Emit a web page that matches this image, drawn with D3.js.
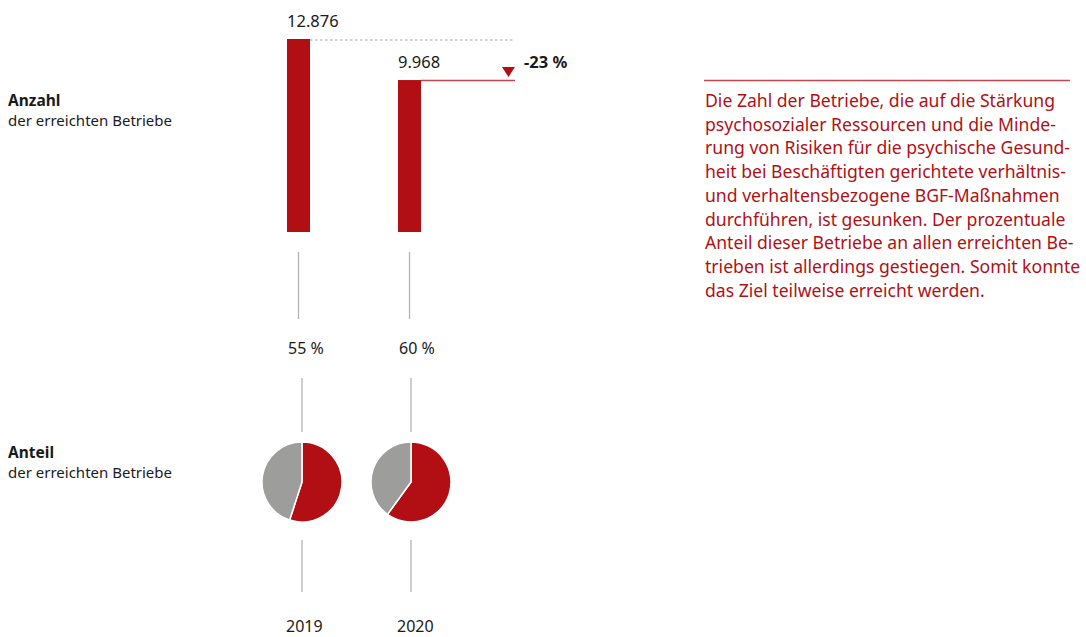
<!DOCTYPE html>
<html>
<head>
<meta charset="utf-8">
<script src="https://cdn.jsdelivr.net/npm/d3@7/dist/d3.min.js"></script>
<style>
  html, body { margin: 0; padding: 0; background: #fff; }
  svg { display: block; }
  text { font-family: "Noto Sans", "DejaVu Sans", sans-serif; }
</style>
</head>
<body>
<svg id="chart" width="1086" height="637"></svg>
<script>
// Data
const years = ["2019", "2020"];
const counts = [12876, 9968];
const shares = [55, 60];
const changeLabel = "-23 %";
const countLabels = ["12.876", "9.968"];
const shareLabels = ["55 %", "60 %"];
const noteLines = [
  "Die Zahl der Betriebe, die auf die Stärkung",
  "psychosozialer Ressourcen und die Minde-",
  "rung von Risiken für die psychische Gesund-",
  "heit bei Beschäftigten gerichtete verhältnis-",
  "und verhaltensbezogene BGF-Maßnahmen",
  "durchführen, ist gesunken. Der prozentuale",
  "Anteil dieser Betriebe an allen erreichten Be-",
  "trieben ist allerdings gestiegen. Somit konnte",
  "das Ziel teilweise erreicht werden."
];

const RED = "#b20f14";
const GREY = "#9d9d9c";
const LINE = "#b3b3b3";
const TEXT = "#1a1a1a";

const svg = d3.select("#chart");

// Scales: bar left edges, pie centres, bar heights
const x = d3.scalePoint().domain(years).range([287, 398]);
const xPie = d3.scalePoint().domain(years).range([302, 411]);
const y = d3.scaleLinear().domain([-800, 12876]).range([232, 39]);
const bw = 23;

// Left row labels
const rowLabels = [
  { title: "Anzahl", sub: "der erreichten Betriebe", y: 106 },
  { title: "Anteil", sub: "der erreichten Betriebe", y: 458 }
];
rowLabels.forEach(r => {
  svg.append("text").attr("x", 8).attr("y", r.y)
    .attr("font-size", 15.5).attr("font-weight", "bold").attr("fill", TEXT).text(r.title);
  svg.append("text").attr("x", 8).attr("y", r.y + 20)
    .attr("font-size", 15).attr("fill", TEXT).text(r.sub);
});

// Bars
svg.selectAll("rect.bar").data(counts).join("rect")
  .attr("class", "bar")
  .attr("x", (d, i) => x(years[i]))
  .attr("y", d => y(d))
  .attr("width", bw)
  .attr("height", d => y(-800) - y(d))
  .attr("fill", RED);

// Value labels
svg.selectAll("text.val").data(countLabels).join("text")
  .attr("class", "val")
  .attr("x", (d, i) => x(years[i]))
  .attr("y", (d, i) => y(counts[i]) - 12)
  .attr("font-size", 16.5).attr("fill", TEXT).text(d => d);

// Reference line from the first bar, change line from the second
const lineEnd = 515;
svg.append("line")
  .attr("x1", x(years[0]) + bw).attr("x2", lineEnd)
  .attr("y1", y(counts[0]) + 1).attr("y2", y(counts[0]) + 1)
  .attr("stroke", "#a6a6a6").attr("stroke-width", 1.2).attr("stroke-dasharray", "2.5,2.5");
svg.append("line")
  .attr("x1", x(years[1]) + bw).attr("x2", lineEnd)
  .attr("y1", y(counts[1]) + 0.5).attr("y2", y(counts[1]) + 0.5)
  .attr("stroke", "#c9474c").attr("stroke-width", 1.6);

// Down triangle and change label
const ty = y(counts[1]) - 13;
svg.append("path")
  .attr("d", `M${lineEnd - 13},${ty} L${lineEnd},${ty} L${lineEnd - 6.5},${ty + 10} Z`)
  .attr("fill", RED);
svg.append("text").attr("x", 524).attr("y", y(counts[1]) - 12)
  .attr("font-size", 16.5).attr("font-weight", "bold").attr("fill", TEXT).text(changeLabel);

// Connector lines, share labels and years
years.forEach((yr, i) => {
  const bc = x(yr) + bw / 2;
  const pc = xPie(yr);
  svg.append("line").attr("x1", bc).attr("x2", bc).attr("y1", 252).attr("y2", 319)
    .attr("stroke", LINE).attr("stroke-width", 1.3);
  svg.append("line").attr("x1", pc).attr("x2", pc).attr("y1", 378).attr("y2", 432)
    .attr("stroke", LINE).attr("stroke-width", 1.3);
  svg.append("line").attr("x1", pc).attr("x2", pc).attr("y1", 540).attr("y2", 592)
    .attr("stroke", LINE).attr("stroke-width", 1.3);
  svg.append("text").attr("x", x(yr) + 1).attr("y", 354)
    .attr("font-size", 16).attr("fill", TEXT).text(shareLabels[i]);
  svg.append("text").attr("x", x(yr) - 1).attr("y", 632)
    .attr("font-size", 16).attr("fill", TEXT).text(yr);
});

// Pies
const pie = d3.pie().sort(null).value(d => d);
const arc = d3.arc().innerRadius(0).outerRadius(40);
shares.forEach((s, i) => {
  const g = svg.append("g").attr("transform", `translate(${xPie(years[i])},${482})`);
  g.selectAll("path").data(pie([s, 100 - s])).join("path")
    .attr("d", arc)
    .attr("fill", (d, j) => j === 0 ? RED : GREY)
    .attr("stroke", "#fff").attr("stroke-width", 1.5);
});

// Note text
svg.append("line").attr("x1", 704).attr("x2", 1070).attr("y1", 80.5).attr("y2", 80.5)
  .attr("stroke", "#c9474c").attr("stroke-width", 1.3);
svg.append("g").selectAll("text").data(noteLines).join("text")
  .attr("x", 705)
  .attr("y", (d, i) => 107 + i * 23.7)
  .attr("font-size", 17.6).attr("fill", RED).text(d => d);
</script>
</body>
</html>
